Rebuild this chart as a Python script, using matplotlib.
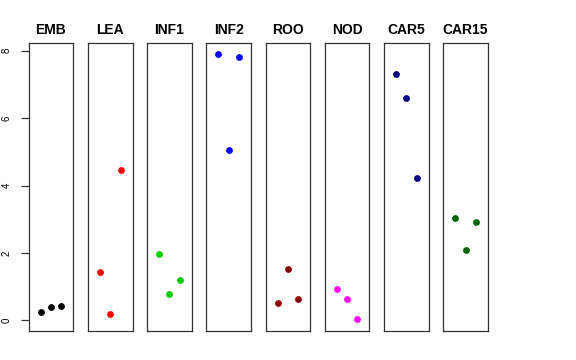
import numpy as np
import matplotlib
matplotlib.use('Agg')
from matplotlib import pyplot as plt

# Values (3 replicates per tissue)
tissues = ['EMB', 'LEA', 'INF1', 'INF2', 'ROO', 'NOD', 'CAR5', 'CAR15']
colors = ['black', 'red', '#00CD00', 'blue', '#8B0000', 'magenta', '#000080', '#006400']
reps = [1, 2, 3]
emb = [0.25, 0.39, 0.41]
lea = [1.42, 0.20, 4.46]
inf1 = [1.98, 0.77, 1.19]
inf2 = [7.91, 5.04, 7.80]
roo = [0.51, 1.53, 0.63]
nod = [0.93, 0.64, 0.03]
car5 = [7.30, 6.60, 4.21]
car15 = [3.04, 2.09, 2.91]
values = [emb, lea, inf1, inf2, roo, nod, car5, car15]
yticks = [0, 2, 4, 6, 8]

plt.rcParams['font.family'] = ['Liberation Sans', 'DejaVu Sans']

W, H = 576, 360
fig = plt.figure(figsize=(W / 100, H / 100), dpi=100)

left0 = 28.7
step = 59.23
pw = 44.6
top = 42.7
bottom = 331.0

for i, (name, col, vals) in enumerate(zip(tissues, colors, values)):
    ax = fig.add_axes([(left0 + step * i) / W, (H - bottom) / H, pw / W, (bottom - top) / H])
    ax.scatter(reps, vals, s=24, color=col, zorder=3, linewidths=0)
    ax.set_xlim(-0.16, 4.16)
    ax.set_ylim(-0.317, 8.237)
    ax.set_xticks([])
    ax.set_title(name, fontsize=10, fontweight='bold', pad=6)
    for sp in ax.spines.values():
        sp.set_color('#333333')
        sp.set_linewidth(0.9)
    if i == 0:
        ax.set_yticks(yticks)
        ax.set_yticklabels([str(t) for t in yticks], rotation=90, va='center', fontsize=7)
        ax.tick_params(axis='y', length=5.5, width=0.9, color='#333333', pad=7)
    else:
        ax.set_yticks([])

fig.savefig('out.png', dpi=100)
